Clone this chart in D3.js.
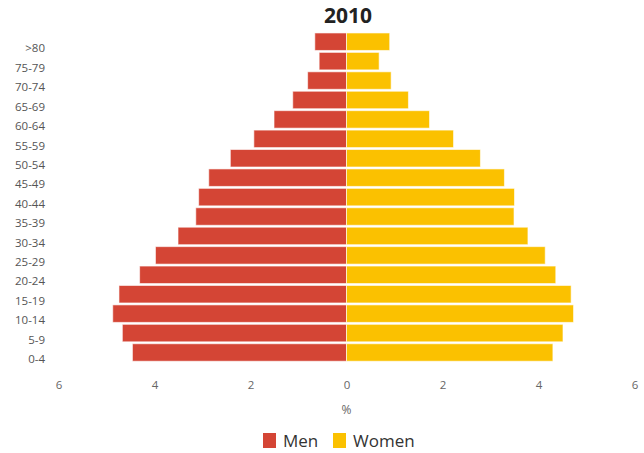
<!DOCTYPE html>
<html>
<head>
<meta charset="utf-8">
<script src="https://cdn.jsdelivr.net/npm/d3@7"></script>
<style>
  body { margin: 0; background: #fff; }
  svg { display: block; font-family: "Open Sans", sans-serif; }
</style>
</head>
<body>
<svg id="chart" width="644" height="453"></svg>
<script>
// Age groups, oldest at the top
const ageGroups = [">80", "75-79", "70-74", "65-69", "60-64", "55-59", "50-54", "45-49",
  "40-44", "35-39", "30-34", "25-29", "20-24", "15-19", "10-14", "5-9", "0-4"];
// Share of the population (%) per age group
const menValues = [0.66, 0.57, 0.81, 1.12, 1.51, 1.93, 2.42, 2.87,
  3.08, 3.14, 3.51, 3.98, 4.31, 4.74, 4.87, 4.67, 4.46];
const womenValues = [0.90, 0.68, 0.93, 1.29, 1.73, 2.23, 2.79, 3.29,
  3.50, 3.49, 3.78, 4.14, 4.36, 4.68, 4.73, 4.51, 4.30];
const xTickValues = [-6, -4, -2, 0, 2, 4, 6];
const seriesNames = ["Men", "Women"];
const colors = { Men: "#d44535", Women: "#fbc100" };

const svg = d3.select("#chart");

const x = d3.scaleLinear().domain([-6, 6]).range([58.5, 634.5]);
const y = d3.scaleBand().domain(ageGroups).range([32, 362.2])
  .paddingInner(0.1).paddingOuter(0.05);

// Title
svg.append("text")
  .attr("x", 348).attr("y", 23)
  .attr("text-anchor", "middle")
  .attr("font-size", 21).attr("font-weight", 700)
  .attr("fill", "#222")
  .text("2010");

// Bars: men to the left, women to the right
const rows = ageGroups.map((g, i) => ({ g, men: menValues[i], women: womenValues[i] }));

svg.append("g").selectAll("rect").data(rows).join("rect")
  .attr("x", d => x(-d.men))
  .attr("y", d => y(d.g))
  .attr("width", d => x(0) - x(-d.men))
  .attr("height", y.bandwidth())
  .attr("fill", colors.Men)
  .attr("stroke", "#fff").attr("stroke-opacity", 0.6).attr("stroke-width", 1);

svg.append("g").selectAll("rect").data(rows).join("rect")
  .attr("x", x(0))
  .attr("y", d => y(d.g))
  .attr("width", d => x(d.women) - x(0))
  .attr("height", y.bandwidth())
  .attr("fill", colors.Women)
  .attr("stroke", "#fff").attr("stroke-opacity", 0.6).attr("stroke-width", 1);

// Y axis (age groups)
const yAxis = svg.append("g")
  .attr("transform", "translate(45,7)")
  .call(d3.axisLeft(y).tickSize(0).tickPadding(0));
yAxis.select(".domain").remove();
yAxis.selectAll("text")
  .attr("font-size", 11.5).attr("fill", "#555")
  .attr("font-family", "Open Sans, sans-serif");

// X axis (percent)
const xAxis = svg.append("g")
  .attr("transform", "translate(0,378)")
  .call(d3.axisBottom(x).tickValues(xTickValues)
    .tickFormat(d => Math.abs(d)).tickSize(0).tickPadding(3));
xAxis.select(".domain").remove();
xAxis.selectAll("text")
  .attr("font-size", 11.5).attr("fill", "#666")
  .attr("font-family", "Open Sans, sans-serif");

svg.append("text")
  .attr("x", x(0)).attr("y", 414)
  .attr("text-anchor", "middle")
  .attr("font-size", 12).attr("fill", "#666")
  .text("%");

// Legend
const legend = svg.append("g").attr("transform", "translate(263,433)");
const legendX = [0, 70];
seriesNames.forEach((name, i) => {
  const item = legend.append("g").attr("transform", `translate(${legendX[i]},0)`);
  item.append("rect").attr("width", 13).attr("height", 15).attr("fill", colors[name]);
  item.append("text").attr("x", 20).attr("y", 14)
    .attr("font-size", 17).attr("fill", "#333")
    .text(name);
});
</script>
</body>
</html>
